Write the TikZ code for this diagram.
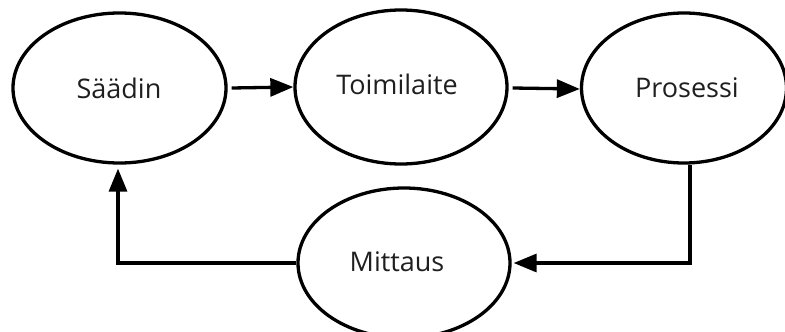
\documentclass[tikz,border=0pt]{standalone}
\usepackage{fontspec}
\setmainfont{Open Sans}
\usetikzlibrary{arrows.meta,shapes.geometric}
\begin{document}
\begin{tikzpicture}[x=1pt,y=-1pt,
  block/.style={draw=black,line width=3.3pt,ellipse,minimum width=213pt,minimum height=150pt,inner sep=0pt},
  caption/.style={font=\fontsize{27}{32}\selectfont,text=black!88},
  flow/.style={line width=3.3pt,-{Triangle[length=23pt,width=18pt]}}]
\useasboundingbox (0,0) rectangle (785,332);
\clip (0,0) rectangle (785,332);
% loop elements
\node[block] (saadin) at (119.5,88) {};
\node[block,minimum width=212pt,minimum height=154pt] (toim) at (401,87) {};
\node[block,minimum width=205pt] (pros) at (684,88) {};
\node[block,minimum width=212pt] (mitt) at (404,263) {};
% texts
\node[caption] at (119,88) {Säädin};
\node[caption] at (397,84) {Toimilaite};
\node[caption] at (687,88) {Prosessi};
\node[caption] at (397,262) {Mittaus};
% forward path
\draw[flow] (saadin.east) ++(4,0) -- (toim.west);
\draw[flow] (toim.east) ++(4,1) -- ([yshift=-1pt]pros.west);
% feedback path
\draw[flow] ([xshift=6pt]pros.south) |- ([xshift=2pt]mitt.east);
\draw[flow] (mitt.west) -| ([xshift=-1.5pt,yshift=-4pt]saadin.south);
\end{tikzpicture}
\end{document}
